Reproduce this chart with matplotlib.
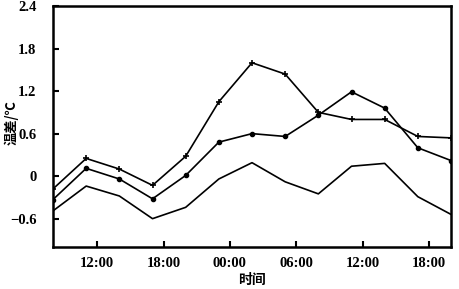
import numpy as np
import matplotlib as mpl
mpl.use('Agg')
import matplotlib.pyplot as plt

# hours since 08:00 of the first day, one reading every 3 hours
hours = np.arange(0, 37, 3)
tick_pos = [4, 10, 16, 22, 28, 34]
tick_labels = ['12:00', '18:00', '00:00', '06:00', '12:00', '18:00']

top_line = [-0.18, 0.25, 0.10, -0.13, 0.28, 1.05, 1.60, 1.44, 0.90, 0.80, 0.80, 0.56, 0.54]
mid_line = [-0.33, 0.11, -0.04, -0.32, 0.01, 0.48, 0.60, 0.56, 0.86, 1.19, 0.96, 0.40, 0.22]
low_line = [-0.49, -0.14, -0.28, -0.60, -0.44, -0.04, 0.19, -0.08, -0.25, 0.14, 0.18, -0.29, -0.54]

plt.rcParams['font.family'] = ['Liberation Serif', 'Noto Sans CJK SC']

fig = plt.figure(figsize=(4.59, 2.89), dpi=100)
ax = fig.add_axes([0.1155, 0.1453, 0.8671, 0.8337])

ax.plot(hours, top_line, color='black', lw=1.2, marker='+', ms=5, mew=1.2)
ax.plot(hours, mid_line, color='black', lw=1.2, marker='o', ms=3)
ax.plot(hours, low_line, color='black', lw=1.2)

ax.set_xlim(0, 36)
ax.set_ylim(-1.0, 2.4)
ax.set_xticks(tick_pos)
ax.set_xticklabels(tick_labels)
ax.set_yticks([-0.6, 0, 0.6, 1.2, 1.8, 2.4])
ax.set_yticklabels(['\u22120.6', '0', '0.6', '1.2', '1.8', '2.4'])
ax.tick_params(direction='in', length=4, width=1.5, labelsize=10.5)
ax.tick_params(axis='x', pad=7)
ax.tick_params(axis='y', pad=12)
for lab in ax.get_xticklabels() + ax.get_yticklabels():
    lab.set_fontweight('bold')

for s in ax.spines.values():
    s.set_linewidth(1.8)

# y label sits close to the left edge, as in the original
fig.text(11 / 459, 1 - 123 / 289, '温差/℃', family=['Noto Sans CJK SC'], fontsize=9.5,
         fontweight='bold', rotation=90, ha='center', va='center')
ax.set_xlabel('时间', family=['Noto Sans CJK SC'], fontsize=10, fontweight='bold', labelpad=2)

plt.savefig('out.png', dpi=100)
